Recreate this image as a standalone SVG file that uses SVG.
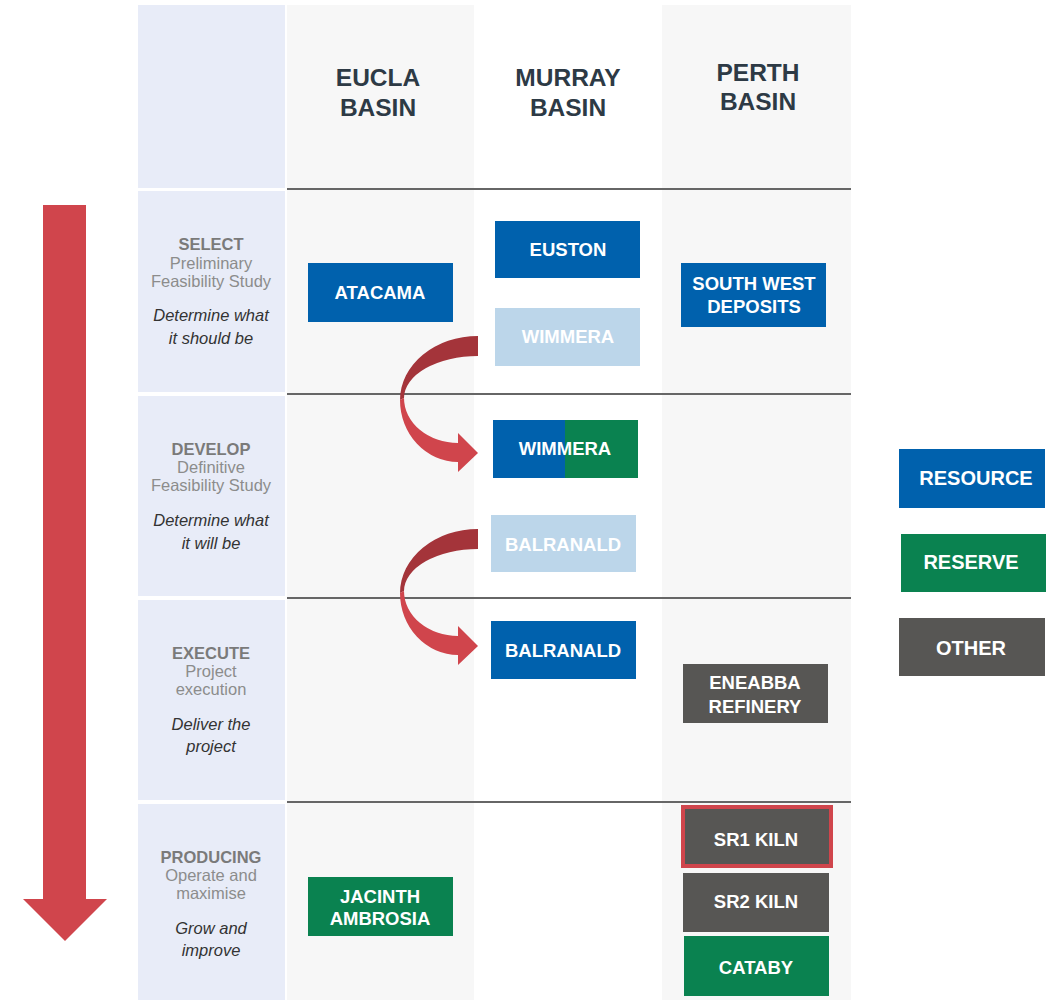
<svg xmlns="http://www.w3.org/2000/svg" width="1056" height="1000" viewBox="0 0 1056 1000">
<style>
.hdr{font-family:"Liberation Sans",Arial,sans-serif;font-weight:bold;font-size:24.5px;fill:#2d3a45;text-anchor:middle}
.st{font-family:"Liberation Sans",Arial,sans-serif;font-weight:bold;font-size:16.5px;fill:#7a7a7a;text-anchor:middle}
.sub{font-family:"Liberation Sans",Arial,sans-serif;font-size:16.5px;fill:#8c8c8c;text-anchor:middle}
.it{font-family:"Liberation Sans",Arial,sans-serif;font-style:italic;font-size:16.5px;fill:#333;text-anchor:middle}
.bt{font-family:"Liberation Sans",Arial,sans-serif;font-weight:bold;font-size:18.5px;fill:#fff;text-anchor:middle}
.lt{font-family:"Liberation Sans",Arial,sans-serif;font-weight:bold;font-size:20px;fill:#fff;text-anchor:middle}
.res{fill:#0061ad}
.rsv{fill:#0a8250}
.oth{fill:#575654}
.pale{fill:#bcd6ea}
.sep{stroke:#666;stroke-width:2}
</style>
<rect width="1056" height="1000" fill="#fff"/>
<g id="grid">
<rect x="138" y="5" width="147" height="183" fill="#e8ecf8"/>
<rect x="138" y="191" width="147" height="201" fill="#e8ecf8"/>
<rect x="138" y="396" width="147" height="200" fill="#e8ecf8"/>
<rect x="138" y="600" width="147" height="200" fill="#e8ecf8"/>
<rect x="138" y="804" width="147" height="196" fill="#e8ecf8"/>
<rect x="287" y="5" width="187" height="995" fill="#f7f7f7"/>
<rect x="662" y="5" width="189" height="995" fill="#f7f7f7"/>
<line class="sep" x1="287" y1="189" x2="851" y2="189"/>
<line class="sep" x1="287" y1="394" x2="851" y2="394"/>
<line class="sep" x1="287" y1="598" x2="851" y2="598"/>
<line class="sep" x1="287" y1="802" x2="851" y2="802"/>
</g>
<g id="headers">
<text class="hdr" x="378" y="86">EUCLA</text><text class="hdr" x="378" y="116">BASIN</text>
<text class="hdr" x="568" y="86">MURRAY</text><text class="hdr" x="568" y="116">BASIN</text>
<text class="hdr" x="758" y="81">PERTH</text><text class="hdr" x="758" y="110">BASIN</text>
</g>
<g id="stage-select">
<text class="st" x="211" y="250">SELECT</text>
<text class="sub" x="211" y="269">Preliminary</text>
<text class="sub" x="211" y="287">Feasibility Study</text>
<text class="it" x="211" y="321">Determine what</text>
<text class="it" x="211" y="344">it should be</text>
</g>
<g id="stage-develop">
<text class="st" x="211" y="455">DEVELOP</text>
<text class="sub" x="211" y="473">Definitive</text>
<text class="sub" x="211" y="491">Feasibility Study</text>
<text class="it" x="211" y="526">Determine what</text>
<text class="it" x="211" y="549">it will be</text>
</g>
<g id="stage-execute">
<text class="st" x="211" y="659">EXECUTE</text>
<text class="sub" x="211" y="677">Project</text>
<text class="sub" x="211" y="695">execution</text>
<text class="it" x="211" y="730">Deliver the</text>
<text class="it" x="211" y="752">project</text>
</g>
<g id="stage-producing">
<text class="st" x="211" y="863">PRODUCING</text>
<text class="sub" x="211" y="881">Operate and</text>
<text class="sub" x="211" y="899">maximise</text>
<text class="it" x="211" y="934">Grow and</text>
<text class="it" x="211" y="956">improve</text>
</g>
<g id="progress-arrow">
<path d="M43,205 H86 V899 H107 L65,941 L23,899 H43 Z" fill="#d0454c"/>
</g>
<g id="connectors">
<g id="arrow-wimmera">
<path d="M478,336 A78,64 0 0 0 400,400 L404,398 A74,42 0 0 1 478,356 Z" fill="#a4343a"/>
<path d="M400,400 A58,62 0 0 0 458,462 L458,472 L478,453 L458,433 L458,443 A54,45 0 0 1 404,398 Z" fill="#d0454c"/>
</g>
<g id="arrow-balranald" transform="translate(0,193)">
<path d="M478,336 A78,64 0 0 0 400,400 L404,398 A74,42 0 0 1 478,356 Z" fill="#a4343a"/>
<path d="M400,400 A58,62 0 0 0 458,462 L458,472 L478,453 L458,433 L458,443 A54,45 0 0 1 404,398 Z" fill="#d0454c"/>
</g>
</g>
<g id="atacama"><rect class="res" x="308" y="263" width="145" height="59"/><text class="bt" x="380" y="299">ATACAMA</text></g>
<g id="euston"><rect class="res" x="495" y="221" width="145" height="57"/><text class="bt" x="568" y="256">EUSTON</text></g>
<g id="wimmera-select"><rect class="pale" x="495" y="308" width="145" height="58"/><text class="bt" x="568" y="343">WIMMERA</text></g>
<g id="south-west-deposits"><rect class="res" x="681" y="263" width="145" height="64"/><text class="bt" x="754" y="290">SOUTH WEST</text><text class="bt" x="754" y="313">DEPOSITS</text></g>
<g id="wimmera-develop"><rect class="res" x="493" y="420" width="72" height="58"/><rect class="rsv" x="565" y="420" width="73" height="58"/><text class="bt" x="565" y="455">WIMMERA</text></g>
<g id="balranald-develop"><rect class="pale" x="491" y="515" width="145" height="57"/><text class="bt" x="563" y="551">BALRANALD</text></g>
<g id="balranald-execute"><rect class="res" x="491" y="621" width="145" height="58"/><text class="bt" x="563" y="657">BALRANALD</text></g>
<g id="eneabba-refinery"><rect class="oth" x="683" y="664" width="145" height="59"/><text class="bt" x="755" y="689">ENEABBA</text><text class="bt" x="755" y="713">REFINERY</text></g>
<g id="jacinth-ambrosia"><rect class="rsv" x="308" y="877" width="145" height="59"/><text class="bt" x="380" y="903">JACINTH</text><text class="bt" x="380" y="925">AMBROSIA</text></g>
<g id="sr1-kiln"><rect class="oth" x="683" y="807" width="148" height="59" stroke="#d0454c" stroke-width="4"/><text class="bt" x="756" y="846">SR1 KILN</text></g>
<g id="sr2-kiln"><rect class="oth" x="683" y="873" width="146" height="59"/><text class="bt" x="756" y="908">SR2 KILN</text></g>
<g id="cataby"><rect class="rsv" x="684" y="936" width="145" height="60"/><text class="bt" x="756" y="974">CATABY</text></g>
<g id="legend-resource"><rect class="res" x="899" y="449" width="146" height="59"/><text class="lt" x="976" y="485">RESOURCE</text></g>
<g id="legend-reserve"><rect class="rsv" x="901" y="534" width="145" height="58"/><text class="lt" x="971" y="569">RESERVE</text></g>
<g id="legend-other"><rect class="oth" x="899" y="618" width="146" height="58"/><text class="lt" x="971" y="655">OTHER</text></g>
</svg>
